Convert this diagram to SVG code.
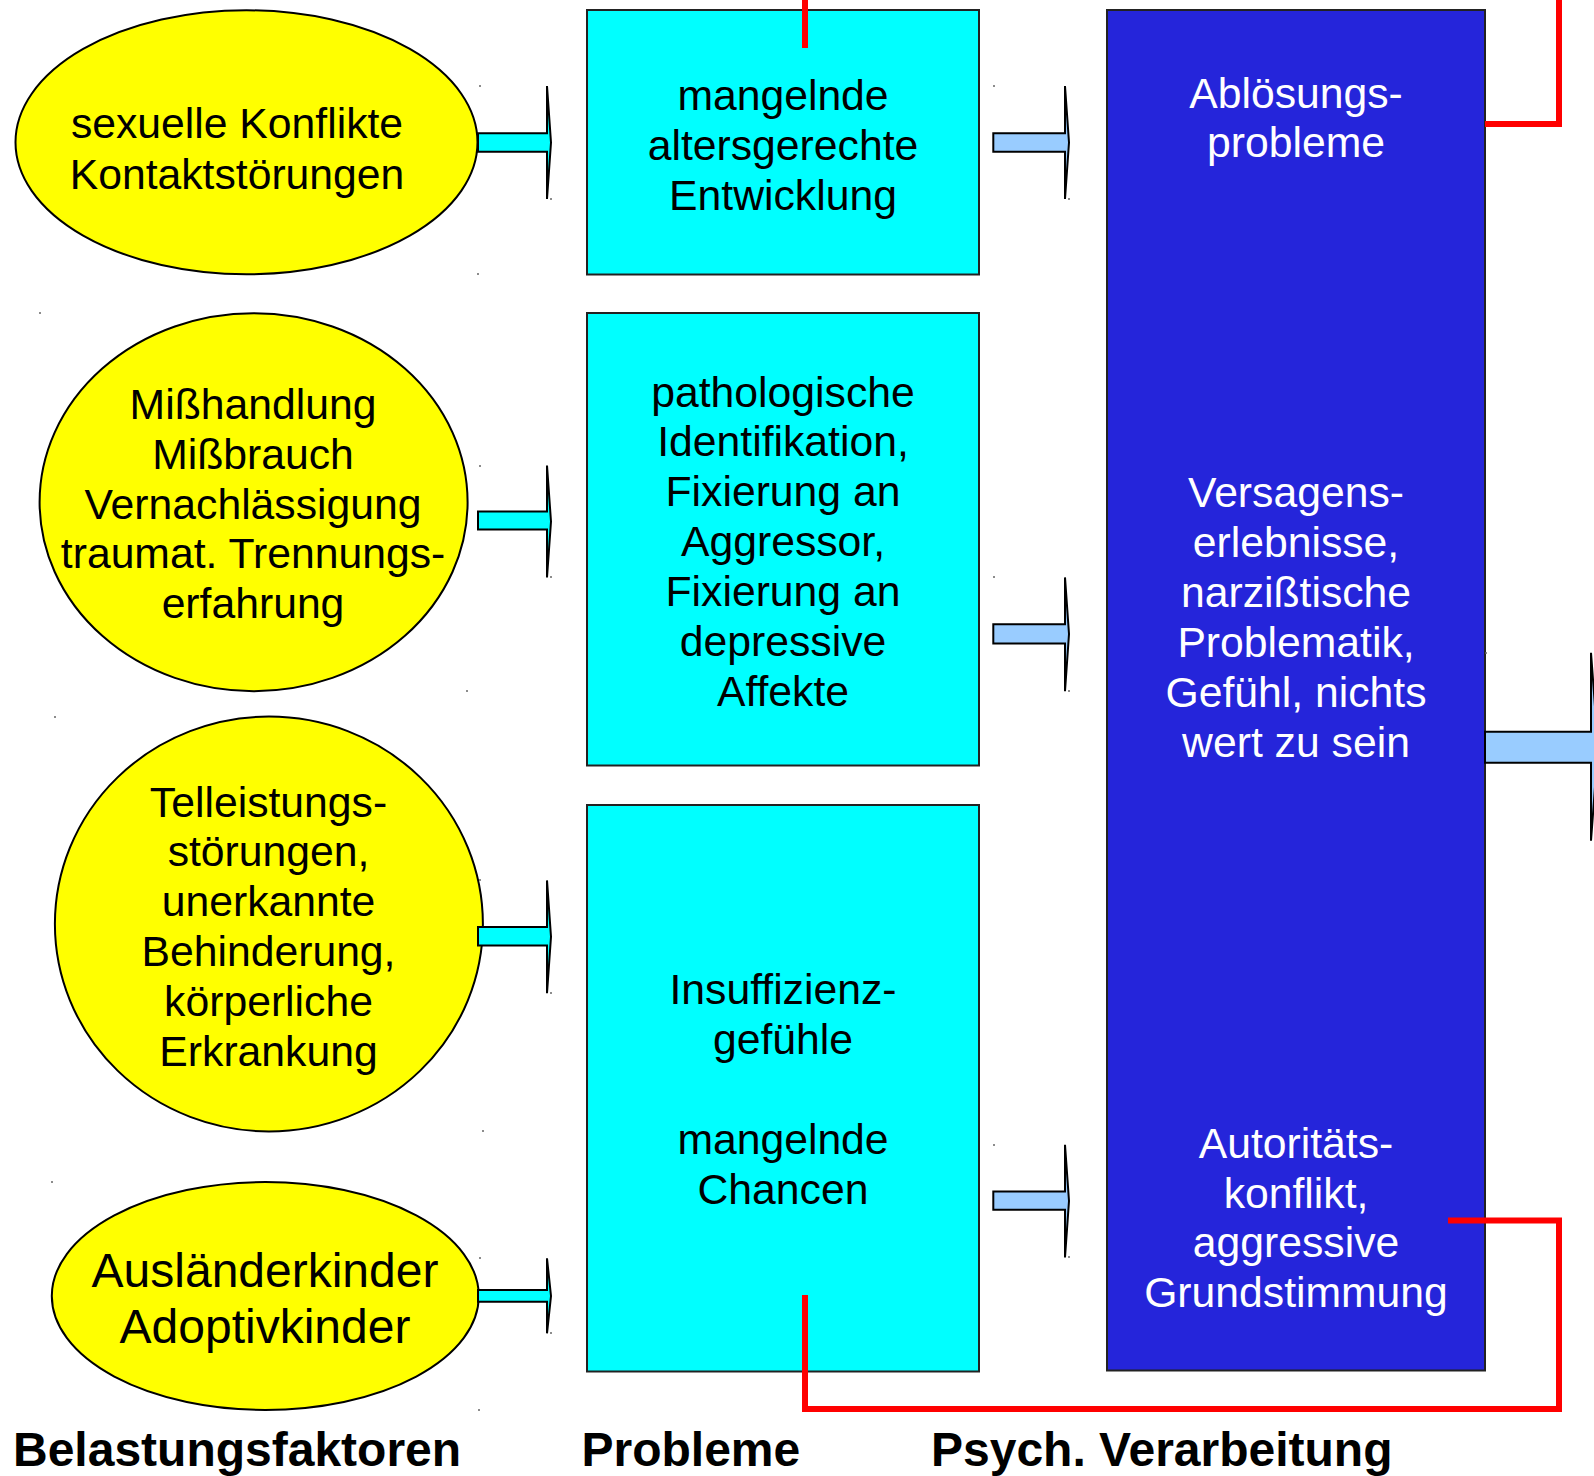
<svg xmlns="http://www.w3.org/2000/svg" width="1594" height="1476" viewBox="0 0 1594 1476">
<style>
.ell{fill:#FFFF00;stroke:#000;stroke-width:2}
.box{fill:#00FFFF;stroke:#222;stroke-width:2}
.blue{fill:#2525DA;stroke:#222;stroke-width:2}
.t{font-family:"Liberation Sans",Arial,sans-serif;font-size:42.7px;fill:#000;text-anchor:middle}
.w{fill:#FFFFFF}
.big{font-size:48px}
.lbl{font-family:"Liberation Sans",Arial,sans-serif;font-size:48px;font-weight:bold;fill:#000}
.ca{fill:#00FFFF;stroke:#000;stroke-width:2;stroke-linejoin:miter}
.ba{fill:#99CCFF;stroke:#000;stroke-width:2;stroke-linejoin:miter}
.red{fill:none;stroke:#FF0000;stroke-width:6;stroke-linejoin:miter}
.dot{fill:#666}
</style>
<rect width="1594" height="1476" fill="#FFFFFF"/>

<g id="e1">
<ellipse class="ell" cx="246.5" cy="142.3" rx="231" ry="132"/>
<text class="t" x="237" y="137.5">sexuelle Konflikte</text>
<text class="t" x="237" y="188.5">Kontaktstörungen</text>
</g>
<g id="e2">
<ellipse class="ell" cx="253.6" cy="502.2" rx="214" ry="189"/>
<text class="t" x="253" y="419">Mißhandlung</text>
<text class="t" x="253" y="469">Mißbrauch</text>
<text class="t" x="253" y="518.5">Vernachlässigung</text>
<text class="t" x="253" y="568">traumat. Trennungs-</text>
<text class="t" x="253" y="618">erfahrung</text>
</g>
<g id="e3">
<ellipse class="ell" cx="268.9" cy="924" rx="214" ry="207.4"/>
<text class="t" x="268.5" y="816.5">Telleistungs-</text>
<text class="t" x="268.5" y="866">störungen,</text>
<text class="t" x="268.5" y="916">unerkannte</text>
<text class="t" x="268.5" y="966">Behinderung,</text>
<text class="t" x="268.5" y="1016">körperliche</text>
<text class="t" x="268.5" y="1066">Erkrankung</text>
</g>
<g id="e4">
<ellipse class="ell" cx="265.3" cy="1296" rx="213.5" ry="113.9"/>
<text class="t big" x="265" y="1287">Ausländerkinder</text>
<text class="t big" x="265" y="1343">Adoptivkinder</text>
</g>

<g id="b1">
<rect class="box" x="587" y="10" width="392" height="264.5"/>
<text class="t" x="783" y="110">mangelnde</text>
<text class="t" x="783" y="159.5">altersgerechte</text>
<text class="t" x="783" y="209.5">Entwicklung</text>
</g>
<g id="b2">
<rect class="box" x="587" y="313" width="392" height="452.5"/>
<text class="t" x="783" y="406.5">pathologische</text>
<text class="t" x="783" y="456">Identifikation,</text>
<text class="t" x="783" y="506">Fixierung an</text>
<text class="t" x="783" y="556">Aggressor,</text>
<text class="t" x="783" y="606">Fixierung an</text>
<text class="t" x="783" y="656">depressive</text>
<text class="t" x="783" y="706">Affekte</text>
</g>
<g id="b3">
<rect class="box" x="587" y="805" width="392" height="566.5"/>
<text class="t" x="783" y="1004">Insuffizienz-</text>
<text class="t" x="783" y="1054">gefühle</text>
<text class="t" x="783" y="1154">mangelnde</text>
<text class="t" x="783" y="1204">Chancen</text>
</g>
<g id="b4">
<rect class="blue" x="1107" y="10" width="378" height="1360.5"/>
<text class="t w" x="1296" y="107.5">Ablösungs-</text>
<text class="t w" x="1296" y="157">probleme</text>
<text class="t w" x="1296" y="507">Versagens-</text>
<text class="t w" x="1296" y="557">erlebnisse,</text>
<text class="t w" x="1296" y="607">narzißtische</text>
<text class="t w" x="1296" y="656.5">Problematik,</text>
<text class="t w" x="1296" y="706.5">Gefühl, nichts</text>
<text class="t w" x="1296" y="756.5">wert zu sein</text>
<text class="t w" x="1296" y="1158">Autoritäts-</text>
<text class="t w" x="1296" y="1207.5">konflikt,</text>
<text class="t w" x="1296" y="1257">aggressive</text>
<text class="t w" x="1296" y="1307">Grundstimmung</text>
</g>

<g id="labels">
<text class="lbl" x="13" y="1466">Belastungsfaktoren</text>
<text class="lbl" x="581.5" y="1466">Probleme</text>
<text class="lbl" x="931" y="1466">Psych. Verarbeitung</text>
</g>

<g id="connectors">
<path class="ca" d="M478,133.3 H547 V86 L551,142.5 L547,199 V151.7 H478 Z"/>
<path class="ca" d="M478,511.4 H547 V465.6 L551,521.5 L547,577.4 V529.6 H478 Z"/>
<path class="ca" d="M478,927 H547 V880.4 L551,936.8 L547,993.2 V945.4 H478 Z"/>
<path class="ca" d="M478,1290 H547 V1258.3 L551,1296 L547,1333.3 V1301.7 H478 Z"/>
<path class="ba" d="M993.3,133.3 H1065 V86 L1069,142.5 L1065,199 V151.7 H993.3 Z"/>
<path class="ba" d="M993.3,624.2 H1065 V577.4 L1069,634 L1065,691.3 V643.5 H993.3 Z"/>
<path class="ba" d="M993.3,1191.5 H1065 V1144.7 L1069,1201 L1065,1257.5 V1209.8 H993.3 Z"/>
<path class="ba" d="M1485,731.7 H1591 V652.7 L1598,747 L1591,840.7 V762.7 H1485 Z"/>
<path class="red" d="M805,0 V48"/>
<path class="red" d="M1485,124 H1559 V0"/>
<path class="red" d="M1448,1220.5 H1559 V1409 H805 V1295"/>
</g>

<g id="specks">
<circle class="dot" cx="480" cy="86" r="1"/><circle class="dot" cx="551" cy="199" r="1"/>
<circle class="dot" cx="480" cy="466" r="1"/><circle class="dot" cx="551" cy="577" r="1"/>
<circle class="dot" cx="480" cy="880" r="1"/><circle class="dot" cx="551" cy="993" r="1"/>
<circle class="dot" cx="480" cy="1258" r="1"/><circle class="dot" cx="551" cy="1333" r="1"/>
<circle class="dot" cx="994" cy="86" r="1"/><circle class="dot" cx="1069" cy="199" r="1"/>
<circle class="dot" cx="994" cy="577" r="1"/><circle class="dot" cx="1069" cy="691" r="1"/>
<circle class="dot" cx="994" cy="1145" r="1"/><circle class="dot" cx="1069" cy="1257" r="1"/>
<circle class="dot" cx="1486" cy="653" r="1"/>
<circle class="dot" cx="40" cy="313" r="1"/><circle class="dot" cx="467" cy="691" r="1"/>
<circle class="dot" cx="55" cy="717" r="1"/><circle class="dot" cx="483" cy="1131" r="1"/>
<circle class="dot" cx="52" cy="1182" r="1"/><circle class="dot" cx="479" cy="1410" r="1"/>
<circle class="dot" cx="478" cy="274" r="1"/>
</g>
</svg>
